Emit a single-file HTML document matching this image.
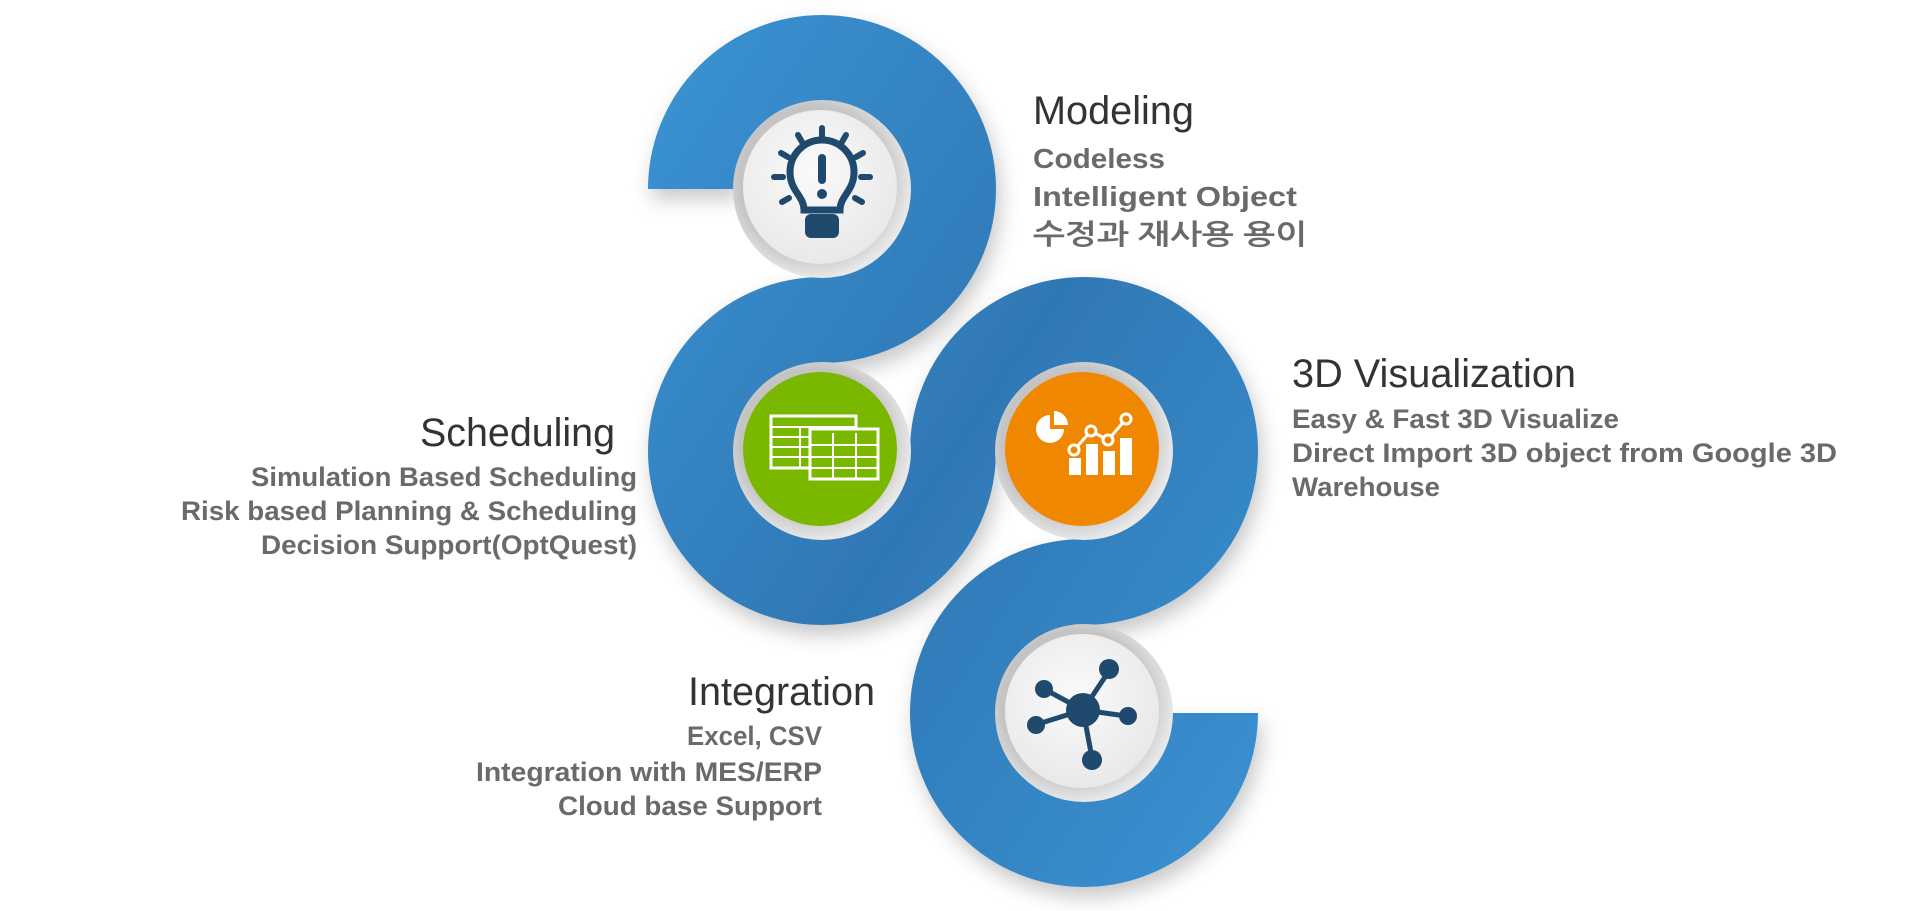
<!DOCTYPE html>
<html><head><meta charset="utf-8"><style>
html,body{margin:0;padding:0;background:#fff;width:1913px;height:911px;overflow:hidden}
svg{display:block}
.t{font-family:"Liberation Sans",sans-serif;fill:#333}
.s{font-family:"Liberation Sans","NanumGothic","Noto Sans CJK KR",sans-serif;font-weight:bold;fill:#6a6a6a}
</style></head><body>
<svg width="1913" height="911" viewBox="0 0 1913 911" xmlns="http://www.w3.org/2000/svg">
<defs>
<linearGradient id="bg" x1="0" y1="0" x2="1" y2="1">
<stop offset="0" stop-color="#3a90d0"/><stop offset="0.5" stop-color="#2f78b5"/><stop offset="1" stop-color="#3a8fcf"/>
</linearGradient>
<filter id="sh" x="-20%" y="-20%" width="140%" height="140%"><feDropShadow dx="4" dy="10" stdDeviation="10" flood-color="#000" flood-opacity="0.22"/></filter>
<radialGradient id="wc" cx="0.45" cy="0.4" r="0.7"><stop offset="0" stop-color="#fafafa"/><stop offset="1" stop-color="#e6e6e6"/></radialGradient>
<radialGradient id="ring" cx="0.45" cy="0.45" r="0.55"><stop offset="0.75" stop-color="#c4c4c4"/><stop offset="0.92" stop-color="#dcdcdc"/><stop offset="1" stop-color="#e8e8e8"/></radialGradient>
</defs>
<path d="M 691 189 A 131 131 0 1 1 822 320 A 131 131 0 1 0 953 451 A 131 131 0 1 1 1084 582 A 131 131 0 1 0 1215 713" fill="none" stroke="url(#bg)" stroke-width="86" filter="url(#sh)"/>
<g>
<circle cx="822" cy="189" r="89" fill="url(#ring)"/><circle cx="820" cy="187" r="77" fill="url(#wc)"/>
<circle cx="822" cy="451" r="89" fill="url(#ring)"/><circle cx="820" cy="449" r="77" fill="#7ab800"/>
<circle cx="1084" cy="451" r="89" fill="url(#ring)"/><circle cx="1082" cy="449" r="77" fill="#ef8700"/>
<circle cx="1084" cy="713" r="89" fill="url(#ring)"/><circle cx="1082" cy="711" r="77" fill="url(#wc)"/>
</g>
<!-- lightbulb -->
<g transform="translate(-2,-4)">
<g stroke="#1f4a6e" stroke-width="6" fill="none" stroke-linecap="round">
<path d="M 806 214 C 806 200 792 195 792 176 A 32 32 0 1 1 856 176 C 856 195 842 200 842 214 Z" stroke-width="7"/>
<line x1="824" y1="132" x2="824" y2="141"/><line x1="800" y1="139" x2="804" y2="146"/><line x1="848" y1="139" x2="844" y2="146"/>
<line x1="783" y1="157" x2="790" y2="161"/><line x1="865" y1="157" x2="858" y2="161"/>
<line x1="776" y1="181" x2="785" y2="181"/><line x1="872" y1="181" x2="863" y2="181"/>
<line x1="784" y1="206" x2="791" y2="202"/><line x1="864" y1="206" x2="857" y2="202"/>
</g>
<rect x="807" y="218" width="34" height="24" rx="6" fill="#1f4a6e"/>
<rect x="820" y="158" width="8" height="30" rx="4" fill="#1f4a6e"/><circle cx="824" cy="198" r="5" fill="#1f4a6e"/>
</g>
<!-- spreadsheet -->
<g stroke="#fff" fill="none" stroke-width="2" transform="translate(0,-5)">
<rect x="771" y="421" width="85" height="52" fill="#7ab800" stroke-width="3"/>
<line x1="771" y1="432" x2="856" y2="432"/><line x1="771" y1="442" x2="856" y2="442"/><line x1="771" y1="452" x2="856" y2="452"/><line x1="771" y1="462" x2="856" y2="462"/>
<line x1="800" y1="432" x2="800" y2="473"/><line x1="828" y1="432" x2="828" y2="473"/>
<rect x="810" y="434" width="68" height="50" fill="#7ab800" stroke-width="3"/>
<line x1="810" y1="450" x2="878" y2="450"/><line x1="810" y1="462" x2="878" y2="462"/><line x1="810" y1="473" x2="878" y2="473"/>
<line x1="833" y1="438" x2="833" y2="484"/><line x1="856" y1="438" x2="856" y2="484"/>
</g>
<!-- chart -->
<g transform="translate(2,-5)">
<g fill="#fff">
<path d="M 1048 420 A 14 14 0 1 0 1062 434 L 1048 434 Z"/><path d="M 1052 416 A 14 14 0 0 1 1066 430 L 1052 430 Z"/>
<rect x="1067" y="463" width="12" height="17"/><rect x="1084" y="449" width="12" height="31"/><rect x="1101" y="456" width="12" height="24"/><rect x="1118" y="443" width="12" height="37"/>
</g>
<polyline points="1072,455 1089,436 1106,445 1124,424" fill="none" stroke="#fff" stroke-width="3"/>
<g fill="#ef8700" stroke="#fff" stroke-width="3"><circle cx="1072" cy="455" r="5"/><circle cx="1089" cy="436" r="5"/><circle cx="1106" cy="445" r="5"/><circle cx="1124" cy="424" r="5"/></g>
</g>
<!-- network -->
<g transform="translate(-2,4)">
<g stroke="#1f4a6e" stroke-width="5"><line x1="1085" y1="706" x2="1111" y2="667"/><line x1="1085" y1="706" x2="1048" y2="686"/><line x1="1085" y1="706" x2="1040" y2="720"/><line x1="1085" y1="706" x2="1128" y2="712"/><line x1="1085" y1="706" x2="1094" y2="754"/></g>
<g fill="#1f4a6e"><circle cx="1085" cy="706" r="17"/><circle cx="1111" cy="665" r="10"/><circle cx="1046" cy="685" r="9"/><circle cx="1038" cy="721" r="9"/><circle cx="1130" cy="712" r="9"/><circle cx="1094" cy="756" r="10"/></g>
</g>
<!-- texts -->
<text class="t" x="1033" y="124" font-size="40" textLength="161" lengthAdjust="spacingAndGlyphs">Modeling</text>
<text class="s" x="1033" y="168" font-size="28" textLength="132" lengthAdjust="spacingAndGlyphs">Codeless</text>
<text class="s" x="1033" y="206" font-size="28" textLength="264" lengthAdjust="spacingAndGlyphs">Intelligent Object</text>
<text class="s" x="1033" y="244" font-size="28" textLength="274" lengthAdjust="spacingAndGlyphs">수정과 재사용 용이</text>
<text class="t" x="1292" y="387" font-size="40" textLength="284" lengthAdjust="spacingAndGlyphs">3D Visualization</text>
<text class="s" x="1292" y="428" font-size="27" textLength="327" lengthAdjust="spacingAndGlyphs">Easy &amp; Fast 3D Visualize</text>
<text class="s" x="1292" y="462" font-size="27" textLength="545" lengthAdjust="spacingAndGlyphs">Direct Import 3D object from Google 3D</text>
<text class="s" x="1292" y="496" font-size="27" textLength="148" lengthAdjust="spacingAndGlyphs">Warehouse</text>
<text class="t" x="420" y="446" font-size="40" textLength="195" lengthAdjust="spacingAndGlyphs">Scheduling</text>
<text class="s" x="251" y="486" font-size="27" textLength="386" lengthAdjust="spacingAndGlyphs">Simulation Based Scheduling</text>
<text class="s" x="181" y="520" font-size="27" textLength="456" lengthAdjust="spacingAndGlyphs">Risk based Planning &amp; Scheduling</text>
<text class="s" x="261" y="554" font-size="27" textLength="376" lengthAdjust="spacingAndGlyphs">Decision Support(OptQuest)</text>
<text class="t" x="688" y="705" font-size="40" textLength="187" lengthAdjust="spacingAndGlyphs">Integration</text>
<text class="s" x="687" y="745" font-size="27" textLength="135" lengthAdjust="spacingAndGlyphs">Excel, CSV</text>
<text class="s" x="476" y="781" font-size="27" textLength="346" lengthAdjust="spacingAndGlyphs">Integration with MES/ERP</text>
<text class="s" x="558" y="815" font-size="27" textLength="264" lengthAdjust="spacingAndGlyphs">Cloud base Support</text>
</svg>
</body></html>
